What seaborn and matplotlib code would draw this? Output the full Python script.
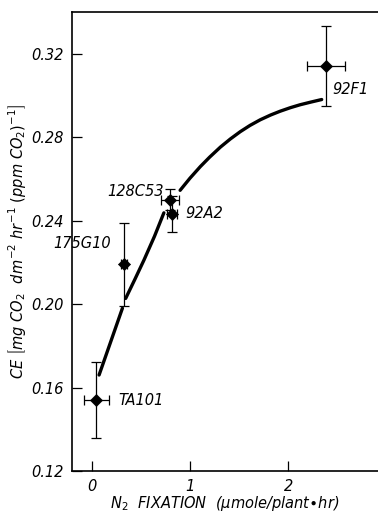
import pandas as pd
import matplotlib.pyplot as plt
import seaborn as sns

# cultivars with N2 fixation (x) and CE (y), error half-widths
strains = ['TA101', '175G10', '128C53', '92A2', '92F1']
n2_fix = [0.05, 0.33, 0.80, 0.82, 2.38]
ce = [0.154, 0.219, 0.250, 0.243, 0.314]
x_err = [0.125, 0.03, 0.09, 0.05, 0.19]
y_err = [0.018, 0.020, 0.005, 0.0087, 0.019]

# fitted curve (three pieces, broken at the error bars)
curve_x = [0.077, 0.314,
           0.347, 0.44, 0.533, 0.64, 0.735,
           0.90, 1.0, 1.106, 1.2, 1.309, 1.41, 1.511, 1.61, 1.714, 1.82, 1.916, 2.02, 2.119, 2.23, 2.338]
curve_y = [0.166, 0.198,
           0.2027, 0.2118, 0.2211, 0.2325, 0.2437,
           0.2545, 0.2603, 0.2659, 0.2704, 0.2752, 0.2791, 0.2826, 0.2856, 0.2883, 0.2906, 0.2924, 0.2941, 0.2955, 0.2968, 0.2980]
curve_seg = [0, 0,
             1, 1, 1, 1, 1,
             2, 2, 2, 2, 2, 2, 2, 2, 2, 2, 2, 2, 2, 2, 2]

sns.set_style('ticks')
plt.rcParams['font.family'] = ['DejaVu Sans']
plt.rcParams['mathtext.default'] = 'it'
plt.rcParams['text.color'] = 'black'
plt.rcParams['axes.labelcolor'] = 'black'
plt.rcParams['xtick.color'] = 'black'
plt.rcParams['ytick.color'] = 'black'
plt.rcParams['axes.edgecolor'] = 'black'

curve = pd.DataFrame({'x': curve_x, 'y': curve_y, 'seg': curve_seg})
pts = pd.DataFrame({'x': n2_fix, 'y': ce})

fig = plt.figure(figsize=(3.78, 5.17), dpi=100)
ax = fig.add_axes([0.19, 0.089, 0.81, 0.888])

sns.lineplot(data=curve, x='x', y='y', units='seg', estimator=None, sort=False,
             color='black', linewidth=2.4, ax=ax)
ax.errorbar(n2_fix, ce, xerr=x_err, yerr=y_err, fmt='none', ecolor='black',
            elinewidth=0.9, capsize=3.5, capthick=0.9)
sns.scatterplot(data=pts, x='x', y='y', marker='D', color='black', s=38,
                edgecolor='black', ax=ax, zorder=5)

# strain labels
label_pos = [(0.27, 0.154, 'left'), (0.20, 0.229, 'right'), (0.73, 0.254, 'right'),
             (0.95, 0.2435, 'left'), (2.45, 0.303, 'left')]
for name, (lx, ly, ha) in zip(strains, label_pos):
    ax.text(lx, ly, name, ha=ha, va='center', fontsize=10.5, style='italic')

ax.set_xlim(-0.2, 2.91)
ax.set_ylim(0.12, 0.34)
ax.set_xticks([0, 1, 2])
ax.set_yticks([0.12, 0.16, 0.20, 0.24, 0.28, 0.32])
ax.set_yticklabels(['0.12', '0.16', '0.20', '0.24', '0.28', '0.32'])
ax.tick_params(direction='in', length=7, width=0.9, labelsize=10.5, pad=6)
for lab in ax.get_xticklabels() + ax.get_yticklabels():
    lab.set_style('italic')

ax.spines['right'].set_visible(False)
for s in ['left', 'bottom', 'top']:
    ax.spines[s].set_linewidth(1.2)

ax.set_xlabel(r'N$_2$  FIXATION  ($\mu$mole/plant$\bullet$hr)', fontsize=10.5,
              style='italic', labelpad=0)
ax.set_ylabel(r'CE $\left[mg\ CO_2\ \ dm^{-2}\ hr^{-1}\ (ppm\ CO_2)^{-1}\right]$',
              fontsize=10.5, style='italic', labelpad=2)

plt.savefig('out.png', dpi=100)
